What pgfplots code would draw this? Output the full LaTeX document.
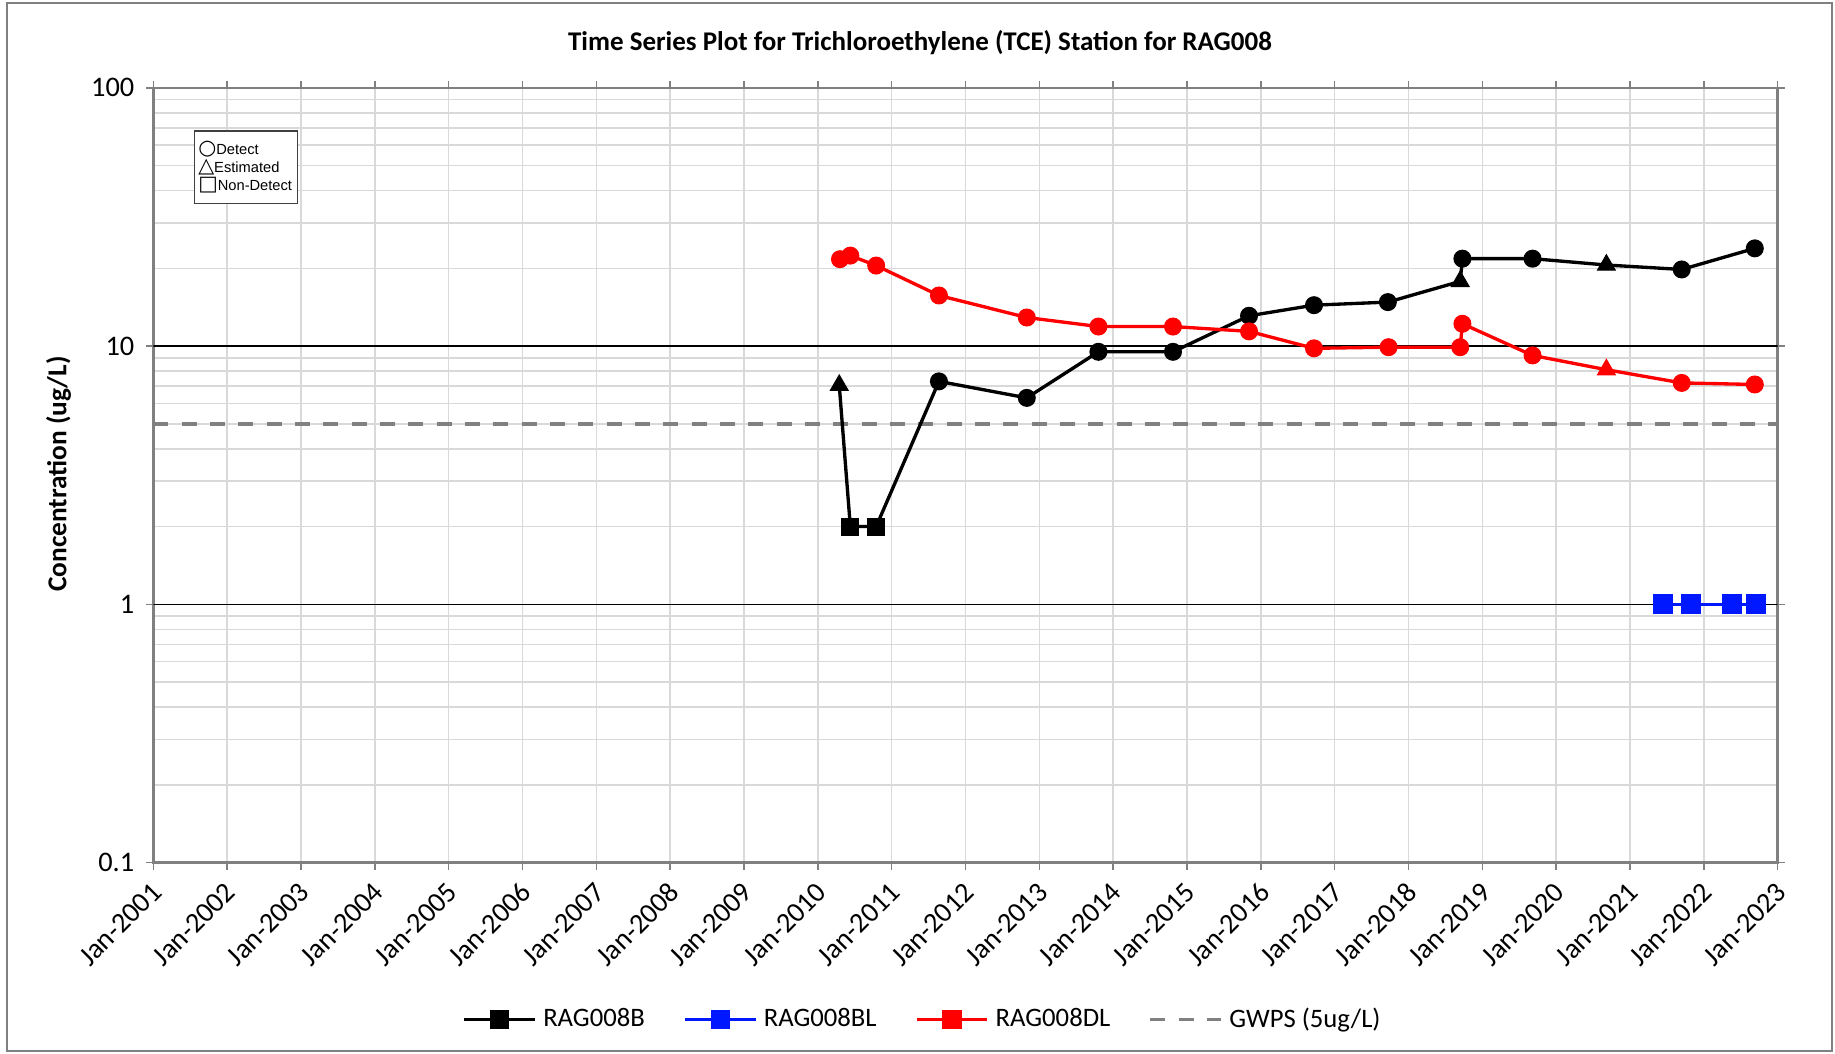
\documentclass[border=0pt]{standalone}
\usepackage{fontspec}
\setmainfont{Carlito}
\newfontfamily\arialfont{Liberation Sans}
\newfontfamily\symfont{DejaVu Sans}
\usepackage{pgfplots}
\pgfplotsset{compat=1.18}
\definecolor{axgray}{RGB}{128,128,128}
\definecolor{gridgray}{RGB}{217,217,217}
\definecolor{xred}{RGB}{255,0,0}
\definecolor{xblue}{RGB}{0,24,255}
\definecolor{dashgray}{RGB}{128,128,128}

\begin{document}
\begin{tikzpicture}
\useasboundingbox (0,0) rectangle (550.5pt,315.9pt);
\draw[axgray, line width=0.45pt] (2.1pt,0.6pt) rectangle (549.6pt,315pt);
\begin{axis}[
  at={(46pt,57.15pt)}, anchor=south west,
  scale only axis, width=487.3pt, height=232.4pt,
  xmin=2001, xmax=2023,
  ymode=log, ymin=0.1, ymax=100,
  xtick={2001,2002,2003,2004,2005,2006,2007,2008,2009,2010,2011,2012,2013,2014,2015,2016,2017,2018,2019,2020,2021,2022,2023},
  xticklabels={Jan-2001,Jan-2002,Jan-2003,Jan-2004,Jan-2005,Jan-2006,Jan-2007,Jan-2008,Jan-2009,Jan-2010,Jan-2011,Jan-2012,Jan-2013,Jan-2014,Jan-2015,Jan-2016,Jan-2017,Jan-2018,Jan-2019,Jan-2020,Jan-2021,Jan-2022,Jan-2023},
  xticklabel style={rotate=45, anchor=north east, font=\fontsize{8.5}{10}\selectfont, inner sep=1pt, xshift=-1.8pt, yshift=-0.5pt},
  ytick={0.1,1,10,100},
  yticklabels={0.1,1,10,100},
  yticklabel style={font=\fontsize{8.5}{10}\selectfont},
  /pgf/number format/assume math mode=true,
  minor ytick={0.2,0.3,0.4,0.5,0.6,0.7,0.8,0.9,2,3,4,5,6,7,8,9,20,30,40,50,60,70,80,90},
  grid=both,
  major grid style={gridgray, line width=0.45pt},
  minor grid style={gridgray, line width=0.45pt},
  axis line style={axgray, line width=0.75pt},
  tick style={axgray, line width=0.45pt},
  tick align=outside, major tick length=2.2pt, minor tick length=0pt,
  legend columns=4,
  legend style={draw=none, fill=none, at={(0.475,-0.203)}, anchor=center,
    font=\fontsize{8}{10}\selectfont,
    /tikz/every even column/.append style={column sep=9.5pt}},
  legend image code/.code={\draw[mark repeat=2,mark phase=2] plot coordinates {(0pt,0pt)(10.6pt,0pt)(21.2pt,0pt)};},
]
\addlegendimage{black, line width=1pt, mark=square*, mark size=2.4pt, mark options={solid}}
\addlegendentry{RAG008B}
\addlegendimage{xblue, line width=1pt, mark=square*, mark size=2.4pt, mark options={solid}}
\addlegendentry{RAG008BL}
\addlegendimage{xred, line width=1pt, mark=square*, mark size=2.4pt, mark options={solid}}
\addlegendentry{RAG008DL}
\addlegendimage{dashgray, line width=1pt, dash pattern=on 4.5pt off 4pt}
\addlegendentry{GWPS (5ug/L)}

\draw[black, line width=0.45pt] (axis cs:2001,1) -- (axis cs:2023,1);
\draw[black, line width=0.45pt] (axis cs:2001,10) -- (axis cs:2023,10);

% GWPS
\addplot[forget plot, dashgray, line width=1.1pt, dash pattern=on 4.5pt off 4pt] coordinates {(2001,5) (2023,5)};

% RAG008B line
\addplot[forget plot, black, line width=1pt, mark=none] coordinates {
(2010.29,7.05) (2010.44,2) (2010.79,2) (2011.64,7.3) (2012.83,6.3) (2013.80,9.5)
(2014.81,9.5) (2015.84,13.1) (2016.72,14.4) (2017.72,14.8) (2018.70,17.8)
(2018.73,21.8) (2019.68,21.8) (2020.68,20.6) (2021.70,19.8) (2022.69,23.9)};
\addplot[forget plot, only marks, black, mark=*, mark size=2.5pt] coordinates {
(2011.64,7.3) (2012.83,6.3) (2013.80,9.5) (2014.81,9.5) (2015.84,13.1) (2016.72,14.4)
(2017.72,14.8) (2018.73,21.8) (2019.68,21.8) (2021.70,19.8) (2022.69,23.9)};
\addplot[forget plot, only marks, black, mark=triangle*, mark size=3pt] coordinates {
(2010.29,7.05) (2018.70,17.8) (2020.68,20.6)};
\addplot[forget plot, only marks, black, mark=square*, mark size=2.5pt] coordinates {
(2010.44,2) (2010.79,2)};

% RAG008DL
\addplot[forget plot, xred, line width=1pt, mark=none] coordinates {
(2010.30,21.7) (2010.44,22.4) (2010.79,20.5) (2011.64,15.7) (2012.83,12.9) (2013.80,11.9)
(2014.81,11.9) (2015.84,11.4) (2016.72,9.8) (2017.73,9.9) (2018.70,9.9) (2018.73,12.2)
(2019.68,9.2) (2020.68,8.1) (2021.70,7.2) (2022.69,7.1)};
\addplot[forget plot, only marks, xred, mark=*, mark size=2.5pt] coordinates {
(2010.30,21.7) (2010.44,22.4) (2010.79,20.5) (2011.64,15.7) (2012.83,12.9) (2013.80,11.9)
(2014.81,11.9) (2015.84,11.4) (2016.72,9.8) (2017.73,9.9) (2018.70,9.9) (2018.73,12.2)
(2019.68,9.2) (2021.70,7.2) (2022.69,7.1)};
\addplot[forget plot, only marks, xred, mark=triangle*, mark size=3pt] coordinates {
(2020.68,8.1)};

% RAG008BL
\addplot[forget plot, xblue, line width=1pt, mark=square*, mark size=2.5pt, mark options={solid}] coordinates {
(2021.45,1) (2021.83,1) (2022.38,1) (2022.70,1)};
\end{axis}

\node[font=\bfseries\fontsize{8.1}{10}\selectfont] at (276pt,303pt) {Time Series Plot for Trichloroethylene (TCE) Station for RAG008};
\node[rotate=90, font=\bfseries\fontsize{8.2}{10}\selectfont] at (17.6pt,173.7pt) {Concentration (ug/L)};

\draw[black!75, line width=0.4pt, fill=white] (58.3pt,254.8pt) rectangle (89.2pt,276.6pt);
\node[anchor=west, align=left, inner sep=0pt, font=\arialfont\fontsize{4.4}{5.4}\selectfont] at (59.3pt,265.7pt)
  {{\symfont\fontsize{6.2}{5.4}\selectfont ○}Detect\\{\symfont\fontsize{6.2}{5.4}\selectfont △}Estimated\\{\symfont\fontsize{6.2}{5.4}\selectfont □}Non-Detect};
\end{tikzpicture}
\end{document}
